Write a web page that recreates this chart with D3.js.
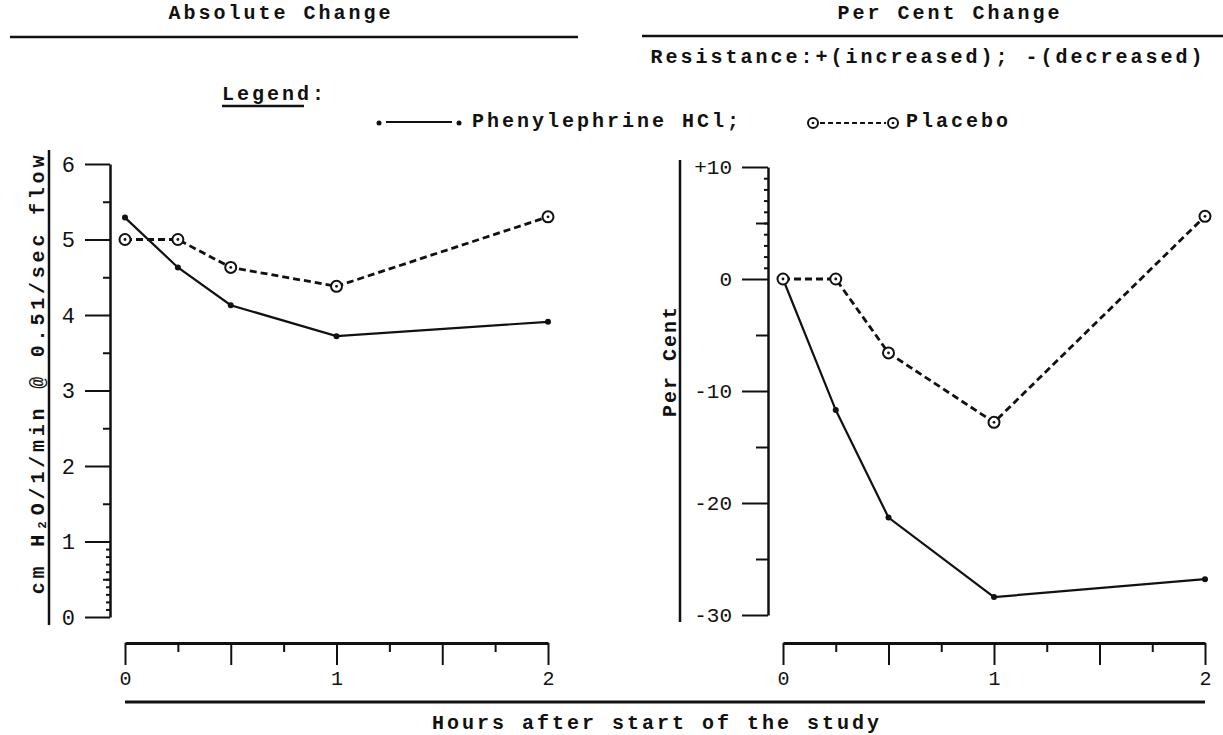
<!DOCTYPE html>
<html>
<head>
<meta charset="utf-8">
<script src="https://cdn.jsdelivr.net/npm/d3@7"></script>
<style>
  html, body { margin: 0; padding: 0; background: #fff; }
  svg text { font-family: "Liberation Mono", "DejaVu Sans Mono", monospace; fill: #111; }
  .tw { font-weight: bold; font-size: 20px; letter-spacing: 3px; }
</style>
</head>
<body>
<svg id="chart" width="1223" height="735"></svg>
<script>
// ---- data ----
const hours = [0, 0.25, 0.5, 1, 2];
const absPhenylephrine = [5.29, 4.63, 4.13, 3.72, 3.91];
const absPlacebo = [5.0, 5.0, 4.63, 4.38, 5.30];
const pctPhenylephrine = [0, -11.7, -21.3, -28.4, -26.8];
const pctPlacebo = [0, 0, -6.6, -12.8, 5.6];
const absTicks = [0, 1, 2, 3, 4, 5, 6];
const absTickLabels = ["0", "1", "2", "3", "4", "5", "6"];
const pctTicks = [-30, -20, -10, 0, 10];
const pctTickLabels = ["-30", "-20", "-10", "0", "+10"];
const hourTicks = [0, 0.5, 1, 1.5, 2];
const hourLabels = ["0", "", "1", "", "2"];

const svg = d3.select("#chart");
const ink = "#111";

// scales
const yAbs = d3.scaleLinear().domain([0, 6]).range([617, 164]);
const yPct = d3.scaleLinear().domain([-30, 10]).range([615, 167]);
const xL = d3.scaleLinear().domain([0, 2]).range([125, 548]);
const xR = d3.scaleLinear().domain([0, 2]).range([783, 1205]);

function styleAxis(g, w) {
  g.selectAll("path.domain").attr("stroke", ink).attr("stroke-width", w);
  g.selectAll(".tick line").attr("stroke", ink).attr("stroke-width", 2);
}
function tw(sel) { return sel.attr("class", "tw"); }

// ---- headers ----
tw(svg.append("text")).attr("x", 281).attr("y", 19).attr("text-anchor", "middle").text("Absolute Change");
tw(svg.append("text")).attr("x", 950).attr("y", 19).attr("text-anchor", "middle").text("Per Cent Change");
svg.append("line").attr("x1", 10).attr("x2", 578).attr("y1", 37).attr("y2", 37)
  .attr("stroke", ink).attr("stroke-width", 2.5);
svg.append("line").attr("x1", 642).attr("x2", 1223).attr("y1", 36).attr("y2", 36)
  .attr("stroke", ink).attr("stroke-width", 2.5);
tw(svg.append("text")).attr("x", 928).attr("y", 63).attr("text-anchor", "middle")
  .text("Resistance:+(increased); -(decreased)");

// ---- legend ----
tw(svg.append("text")).attr("x", 222).attr("y", 100).text("Legend:");
svg.append("line").attr("x1", 222).attr("x2", 304).attr("y1", 106).attr("y2", 106)
  .attr("stroke", ink).attr("stroke-width", 2.5);

const legY = 121;
svg.append("circle").attr("cx", 379).attr("cy", legY + 2).attr("r", 2.5).attr("fill", ink);
svg.append("line").attr("x1", 386).attr("x2", 452).attr("y1", legY + 1).attr("y2", legY + 1)
  .attr("stroke", ink).attr("stroke-width", 2);
svg.append("circle").attr("cx", 459).attr("cy", legY + 2).attr("r", 2.5).attr("fill", ink);
tw(svg.append("text")).attr("x", 472).attr("y", legY + 6).text("Phenylephrine HCl;");
svg.append("circle").attr("cx", 813).attr("cy", legY + 2).attr("r", 5).attr("fill", "none")
  .attr("stroke", ink).attr("stroke-width", 2);
svg.append("circle").attr("cx", 813).attr("cy", legY + 2).attr("r", 1.3).attr("fill", ink);
svg.append("line").attr("x1", 820).attr("x2", 886).attr("y1", legY + 2).attr("y2", legY + 2)
  .attr("stroke", ink).attr("stroke-width", 2).attr("stroke-dasharray", "5,3");
svg.append("circle").attr("cx", 893).attr("cy", legY + 2).attr("r", 5).attr("fill", "none")
  .attr("stroke", ink).attr("stroke-width", 2);
svg.append("circle").attr("cx", 893).attr("cy", legY + 2).attr("r", 1.3).attr("fill", ink);
tw(svg.append("text")).attr("x", 906).attr("y", legY + 6).text("Placebo");

// ---- left panel y axis ----
const gLy = svg.append("g").attr("transform", "translate(110,0)")
  .call(d3.axisLeft(yAbs).tickValues(absTicks).tickSize(25).tickSizeOuter(0).tickPadding(10)
    .tickFormat((d, i) => absTickLabels[i]));
styleAxis(gLy, 2.5);
gLy.selectAll("text").attr("font-size", 22).attr("fill", ink);

const gLyMinor = svg.append("g").attr("transform", "translate(110,0)")
  .call(d3.axisLeft(yAbs).tickValues([0.5, 1.5, 2.5, 3.5, 4.5, 5.5]).tickSize(7).tickFormat(""));
gLyMinor.select("path.domain").remove();
styleAxis(gLyMinor, 2);
const gLyRuler = svg.append("g").attr("transform", "translate(110,0)")
  .call(d3.axisLeft(yAbs).tickValues(d3.range(1, 10).map(i => i / 10)).tickSize(4).tickFormat(""));
gLyRuler.select("path.domain").remove();
styleAxis(gLyRuler, 1.5);

svg.append("line").attr("x1", 49).attr("x2", 49).attr("y1", 150).attr("y2", 625)
  .attr("stroke", ink).attr("stroke-width", 2.5);
tw(svg.append("text")).attr("transform", "translate(44,373) rotate(-90)")
  .attr("text-anchor", "middle").style("letter-spacing", "3.8px")
  .text("cm H\u2082O/1/min @ 0.51/sec flow");

// ---- right panel y axis ----
const gRy = svg.append("g").attr("transform", "translate(768,0)")
  .call(d3.axisLeft(yPct).tickValues(pctTicks).tickSize(26).tickSizeOuter(0).tickPadding(10)
    .tickFormat((d, i) => pctTickLabels[i]));
styleAxis(gRy, 2.5);
gRy.selectAll("text").attr("font-size", 21).attr("fill", ink);

const gRyMinor = svg.append("g").attr("transform", "translate(768,0)")
  .call(d3.axisLeft(yPct).tickValues([-25, -15, -5, 5]).tickSize(12).tickFormat(""));
gRyMinor.select("path.domain").remove();
styleAxis(gRyMinor, 2);
const gRyRuler = svg.append("g").attr("transform", "translate(768,0)")
  .call(d3.axisLeft(yPct).tickValues(d3.range(1, 10)).tickSize(4).tickFormat(""));
gRyRuler.select("path.domain").remove();
styleAxis(gRyRuler, 1.5);

svg.append("line").attr("x1", 680).attr("x2", 680).attr("y1", 160).attr("y2", 622)
  .attr("stroke", ink).attr("stroke-width", 2.5);
tw(svg.append("text")).attr("transform", "translate(676,361) rotate(-90)")
  .attr("text-anchor", "middle").style("letter-spacing", "2px").text("Per Cent");

// ---- x axes ----
function xAxis(scale) {
  const g = svg.append("g").attr("transform", "translate(0,643)")
    .call(d3.axisBottom(scale).tickValues(hourTicks).tickSize(22).tickSizeOuter(0).tickPadding(6)
      .tickFormat((d, i) => hourLabels[i]));
  styleAxis(g, 3);
  g.selectAll("text").attr("font-size", 20).attr("fill", ink);
  const gm = svg.append("g").attr("transform", "translate(0,643)")
    .call(d3.axisBottom(scale).tickValues([0.25, 0.75, 1.25, 1.75]).tickSize(9).tickFormat(""));
  gm.select("path.domain").remove();
  styleAxis(gm, 2);
}
xAxis(xL);
xAxis(xR);

svg.append("line").attr("x1", 125).attr("x2", 1205).attr("y1", 702).attr("y2", 702)
  .attr("stroke", ink).attr("stroke-width", 3);
tw(svg.append("text")).attr("x", 657).attr("y", 729).attr("text-anchor", "middle")
  .text("Hours after start of the study");

// ---- series ----
function drawSeries(xs, ys, vals, dashed) {
  const pts = hours.map((h, i) => [xs(h), ys(vals[i])]);
  svg.append("path").attr("d", d3.line()(pts)).attr("fill", "none").attr("stroke", ink)
    .attr("stroke-width", dashed ? 2.8 : 2.2)
    .attr("stroke-dasharray", dashed ? "7,4" : null);
  pts.forEach(p => {
    if (dashed) {
      svg.append("circle").attr("cx", p[0]).attr("cy", p[1]).attr("r", 5.5)
        .attr("fill", "#fff").attr("stroke", ink).attr("stroke-width", 2);
      svg.append("circle").attr("cx", p[0]).attr("cy", p[1]).attr("r", 1.4).attr("fill", ink);
    } else {
      svg.append("circle").attr("cx", p[0]).attr("cy", p[1]).attr("r", 3).attr("fill", ink);
    }
  });
}
drawSeries(xL, yAbs, absPhenylephrine, false);
drawSeries(xL, yAbs, absPlacebo, true);
drawSeries(xR, yPct, pctPhenylephrine, false);
drawSeries(xR, yPct, pctPlacebo, true);
</script>
</body>
</html>
